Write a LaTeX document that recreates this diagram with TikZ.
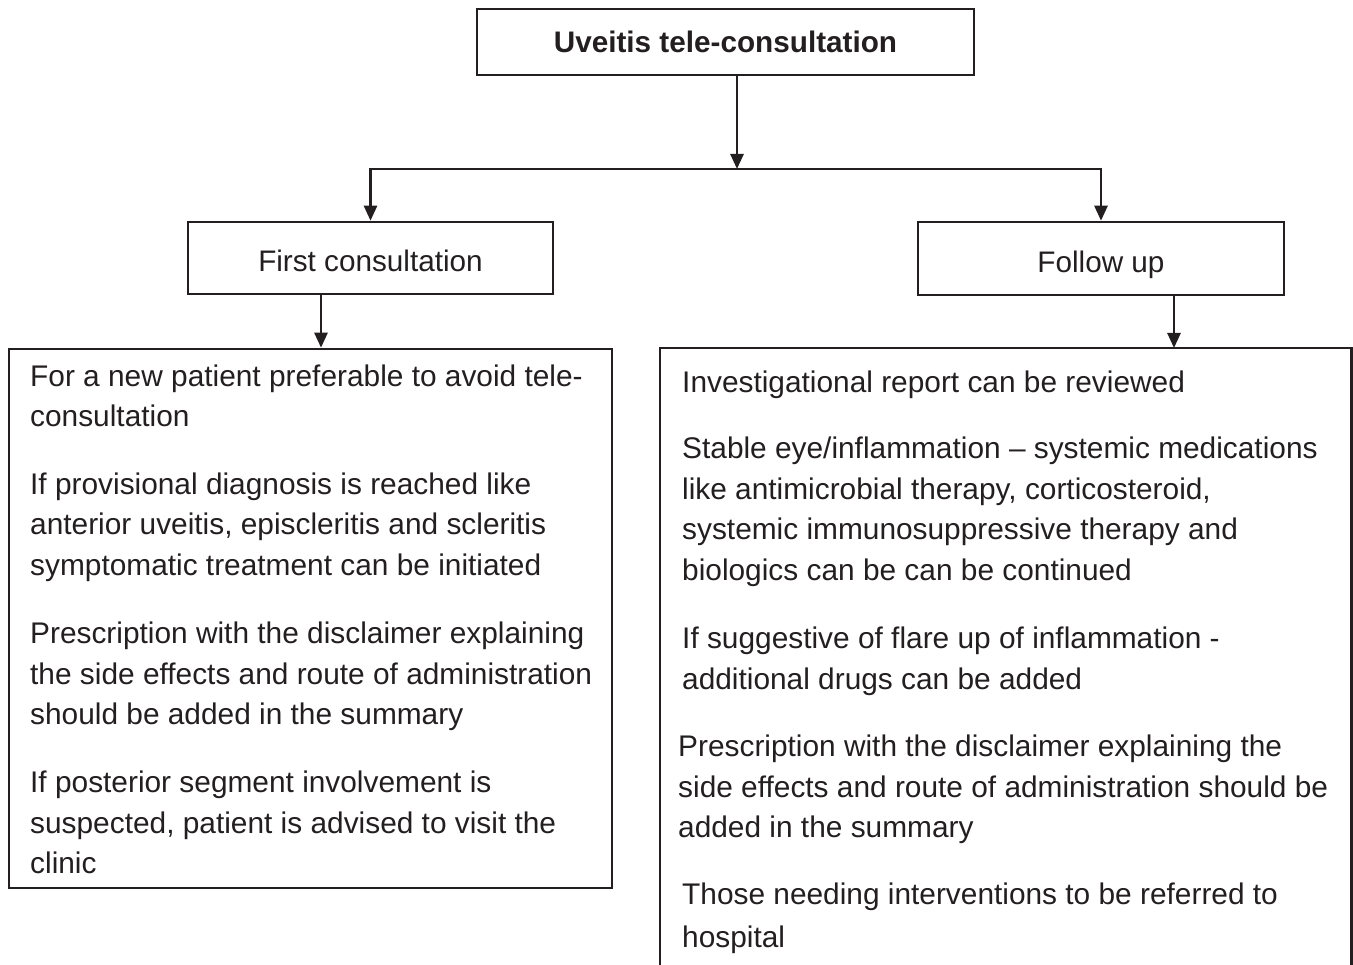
\documentclass[tikz,border=0pt]{standalone}
\usepackage{fontspec}
\setmainfont{Liberation Sans}
\usetikzlibrary{arrows.meta}
\definecolor{ink}{HTML}{231F20}
% fixed-height strut so every paragraph's top sits 25pt above its first baseline
\newcommand{\firstline}{\rule{0pt}{25pt}}
\begin{document}
\begin{tikzpicture}[x=1pt,y=-1pt,
  box/.style={draw=ink, line width=2.6pt, rectangle, inner sep=0pt, text=ink,
    font={\fontsize{29.7}{36}\selectfont}},
  para/.style={anchor=north west, align=left, inner sep=0pt, text=ink,
    font={\fontsize{29.85}{40.8}\selectfont}},
  arr/.style={draw=ink, line width=2.6pt, -{Triangle[width=13pt,length=15pt]}},
  link/.style={draw=ink, line width=2.6pt}]
\useasboundingbox (0,0) rectangle (1353,965);
\clip (0,0) rectangle (1353,965);

% header and the two branch boxes
\node[box, minimum width=497pt, minimum height=66pt, text height=22pt, text depth=0.6pt,
  font={\fontsize{29.7}{36}\selectfont\bfseries}] (title) at (725.5,42) {Uveitis tele-consultation};
\node[box, minimum width=365pt, minimum height=72pt, text height=30pt, text depth=2pt]
  (first) at (370.5,258) {First consultation};
\node[box, minimum width=366pt, minimum height=73pt, text height=31pt, text depth=2pt]
  (follow) at (1101,258.5) {Follow up};

% detail boxes
\node[box, minimum width=603pt, minimum height=539pt] (fcbody) at (310.5,618.5) {};
\node[inner sep=0pt, minimum width=691pt, minimum height=660pt, anchor=north west]
  (fubody) at (660,348) {};
\draw[link] (fubody.south west) -- (fubody.north west) -- (fubody.north east) -- (fubody.south east);

% connectors
\coordinate (split) at (737,169);
\coordinate (c1) at (321,0);
\coordinate (c2) at (1174,0);
\draw[arr] (title.south -| split) -- (split);
\draw[link, line cap=rect] (split -| first.north) -- (split -| follow.north);
\draw[arr] (split -| first.north) -- (first.north);
\draw[arr] (split -| follow.north) -- (follow.north);
\draw[arr] (first.south -| c1) -- (fcbody.north -| c1);
\draw[arr] (follow.south -| c2) -- (fubody.north -| c2);

% first consultation text (positions: first baseline minus 25)
\node[para] (fc1) at (30,361) {\firstline For a new patient preferable to avoid tele-\\consultation};
\node[para] (fc2) at (30,469) {\firstline If provisional diagnosis is reached like\\anterior uveitis, episcleritis and scleritis\\symptomatic treatment can be initiated};
\node[para] (fc3) at (30,618) {\firstline Prescription with the disclaimer explaining\\the side effects and route of administration\\should be added in the summary};
\node[para] (fc4) at (30,767) {\firstline If posterior segment involvement is\\suspected, patient is advised to visit the\\clinic};

% follow up text
\node[para] (fu1) at (682,367) {\firstline Investigational report can be reviewed};
\node[para] (fu2) at (682,433) {\firstline Stable eye/inflammation – systemic medications\\like antimicrobial therapy, corticosteroid,\\systemic immunosuppressive therapy and\\biologics can be can be continued};
\node[para] (fu3) at (682,623) {\firstline If suggestive of flare up of inflammation -\\additional drugs can be added};
\node[para] (fu4) at (678,731) {\firstline Prescription with the disclaimer explaining the\\side effects and route of administration should be\\added in the summary};
\node[para] (fu5) at (682,879) {\firstline Those needing interventions to be referred to\\[2.5pt]hospital};
\end{tikzpicture}
\end{document}
